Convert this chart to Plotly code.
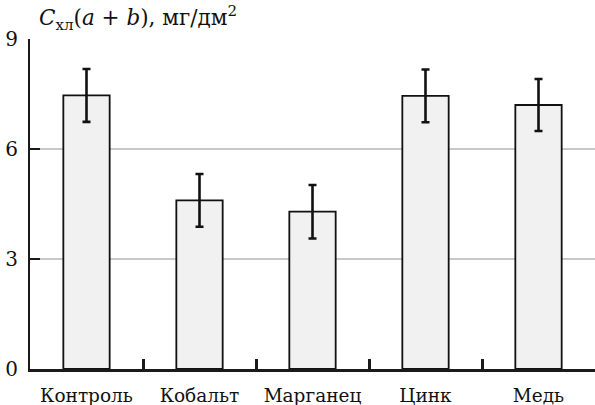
import plotly.graph_objects as go

categories = ["Контроль", "Кобальт", "Марганец", "Цинк", "Медь"]
values = [7.46, 4.60, 4.29, 7.45, 7.20]
errors = [0.72, 0.72, 0.73, 0.72, 0.71]
y_ticks = [0, 3, 6, 9]

serif = "DejaVu Serif"

fig = go.Figure()
fig.add_trace(go.Bar(
    x=categories, y=values, width=0.41,
    marker=dict(color="#f1f1f1", line=dict(color="#111111", width=1.8)),
    error_y=dict(type="data", array=errors, visible=True, color="#111111",
                 thickness=2.6, width=4),
))

fig.update_layout(
    width=595, height=405,
    margin=dict(l=30, r=0, t=39, b=36),
    plot_bgcolor="white", paper_bgcolor="white",
    showlegend=False,
    font=dict(family=serif, color="#111111"),
    xaxis=dict(
        range=[-0.5, 4.5], showline=True, linecolor="#1a1a1a", linewidth=2.5,
        ticks="inside", tickson="boundaries", ticklen=10, tickwidth=2.6,
        tickcolor="#1a1a1a", showgrid=False, layer="above traces",
        tickfont=dict(size=18.5, family=serif, color="#111111"),
        ticklabelstandoff=8,
    ),
    yaxis=dict(
        range=[0, 9], tickvals=y_ticks, showline=True, linecolor="#1a1a1a",
        linewidth=2, ticks="inside", ticklen=10, tickwidth=1.8,
        tickcolor="#1a1a1a", showgrid=True, gridcolor="#c8c8c8", gridwidth=1.6,
        zeroline=False, ticklabelstandoff=6,
        tickfont=dict(size=20, family=serif, color="#111111"),
    ),
)

fig.add_annotation(
    xref="paper", yref="paper", x=7 / 565, y=1, yshift=21,
    xanchor="left", yanchor="middle", showarrow=False,
    text="<i>C</i><sub>хл</sub>(<i>a</i> + <i>b</i>), мг/дм<sup>2</sup>",
    font=dict(size=21.5, family=serif, color="#111111"),
)

fig.write_html("out.html")
